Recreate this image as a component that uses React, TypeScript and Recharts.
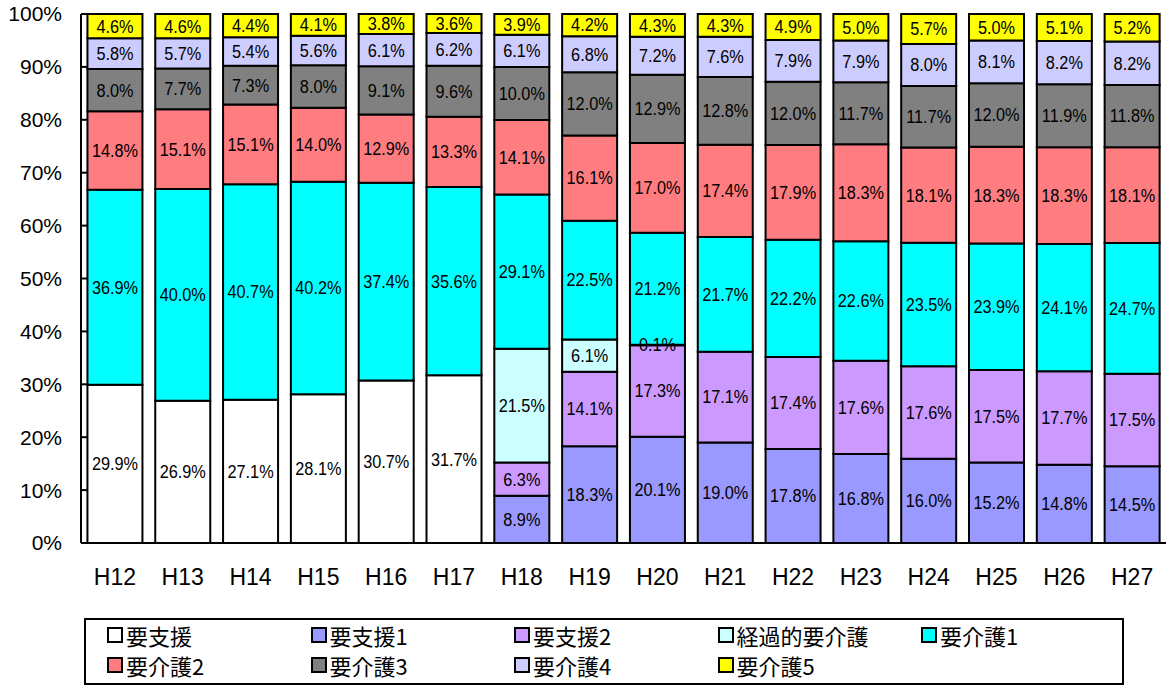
import { BarChart, Bar, XAxis, YAxis, LabelList } from "recharts";

const years = ["H12", "H13", "H14", "H15", "H16", "H17", "H18", "H19", "H20", "H21", "H22", "H23", "H24", "H25", "H26", "H27"];

// values in %, bottom of the stack first
const youShien = [29.9, 26.9, 27.1, 28.1, 30.7, 31.7, null, null, null, null, null, null, null, null, null, null];
const youShien1 = [null, null, null, null, null, null, 8.9, 18.3, 20.1, 19.0, 17.8, 16.8, 16.0, 15.2, 14.8, 14.5];
const youShien2 = [null, null, null, null, null, null, 6.3, 14.1, 17.3, 17.1, 17.4, 17.6, 17.6, 17.5, 17.7, 17.5];
const keikateki = [null, null, null, null, null, null, 21.5, 6.1, 0.1, null, null, null, null, null, null, null];
const kaigo1 = [36.9, 40.0, 40.7, 40.2, 37.4, 35.6, 29.1, 22.5, 21.2, 21.7, 22.2, 22.6, 23.5, 23.9, 24.1, 24.7];
const kaigo2 = [14.8, 15.1, 15.1, 14.0, 12.9, 13.3, 14.1, 16.1, 17.0, 17.4, 17.9, 18.3, 18.1, 18.3, 18.3, 18.1];
const kaigo3 = [8.0, 7.7, 7.3, 8.0, 9.1, 9.6, 10.0, 12.0, 12.9, 12.8, 12.0, 11.7, 11.7, 12.0, 11.9, 11.8];
const kaigo4 = [5.8, 5.7, 5.4, 5.6, 6.1, 6.2, 6.1, 6.8, 7.2, 7.6, 7.9, 7.9, 8.0, 8.1, 8.2, 8.2];
const kaigo5 = [4.6, 4.6, 4.4, 4.1, 3.8, 3.6, 3.9, 4.2, 4.3, 4.3, 4.9, 5.0, 5.7, 5.0, 5.1, 5.2];

const yTicks = [0, 0.1, 0.2, 0.3, 0.4, 0.5, 0.6, 0.7, 0.8, 0.9, 1];
const boundaryTicks = [0, 1, 2, 3, 4, 5, 6, 7, 8, 9, 10, 11, 12, 13, 14, 15, 16];

const series = [
  { key: "s0", name: "要支援", color: "#FFFFFF", values: youShien },
  { key: "s1", name: "要支援1", color: "#9999FF", values: youShien1 },
  { key: "s2", name: "要支援2", color: "#CC99FF", values: youShien2 },
  { key: "s3", name: "経過的要介護", color: "#CCFFFF", values: keikateki },
  { key: "s4", name: "要介護1", color: "#00FFFF", values: kaigo1 },
  { key: "s5", name: "要介護2", color: "#FF7C80", values: kaigo2 },
  { key: "s6", name: "要介護3", color: "#808080", values: kaigo3 },
  { key: "s7", name: "要介護4", color: "#CCCCFF", values: kaigo4 },
  { key: "s8", name: "要介護5", color: "#FFFF00", values: kaigo5 },
];

const data = years.map((year, i) => {
  const row: Record<string, string | number | null> = { year };
  series.forEach((s) => {
    row[s.key] = s.values[i];
  });
  return row;
});

const FONT = "'Liberation Sans', Arial, sans-serif";
const JP_FONT = "'Noto Sans CJK JP', sans-serif";

// the original font is narrow and tall, so squeeze the labels a bit
function SegmentLabel(props: any) {
  const { x, y, width, height, value } = props;
  if (value == null || value === 0) return null;
  const cx = x + width / 2;
  const cy = y + height / 2;
  return (
    <text
      transform={`translate(${cx},${cy}) scale(0.88,1)`}
      textAnchor="middle"
      dominantBaseline="central"
      fontSize={18.5}
      fontFamily={FONT}
      fill="#000"
    >
      {value.toFixed(1)}%
    </text>
  );
}

function LegendBox() {
  return (
    <div
      style={{
        position: "absolute",
        left: 84,
        top: 618,
        width: 1015,
        height: 63,
        border: "2px solid #000",
        display: "grid",
        gridTemplateColumns: "repeat(5, 203.5px)",
        gridAutoRows: "30px",
        paddingLeft: 21,
        boxSizing: "content-box",
        fontFamily: JP_FONT,
        fontSize: 22,
        color: "#000",
        background: "#fff",
      }}
    >
      {series.map((s) => (
        <div key={s.key} style={{ display: "flex", alignItems: "center", whiteSpace: "nowrap" }}>
          <span
            style={{
              display: "inline-block",
              width: 12,
              height: 12,
              border: "2px solid #000",
              background: s.color,
              marginRight: 3,
            }}
          />
          <span>{s.name}</span>
        </div>
      ))}
    </div>
  );
}

export default function App() {
  return (
    <div style={{ position: "absolute", left: 0, top: 0, width: 1167, height: 686, background: "#fff" }}>
      <BarChart
        width={1167}
        height={686}
        data={data}
        stackOffset="expand"
        barCategoryGap="9.5%"
        margin={{ top: 14, right: 1, left: 0, bottom: 0 }}
      >
        <XAxis
          dataKey="year"
          height={143}
          tickLine={false}
          tickSize={0}
          tickMargin={26}
          axisLine={{ stroke: "#000", strokeWidth: 2 }}
          tick={{ fill: "#000", fontSize: 23, fontFamily: FONT }}
          interval={0}
        />
        <XAxis
          xAxisId="bounds"
          type="number"
          domain={[0, 16]}
          ticks={boundaryTicks}
          mirror
          tick={false}
          axisLine={false}
          tickSize={6}
          tickLine={{ stroke: "#000", strokeWidth: 2 }}
        />
        <YAxis
          width={81}
          domain={[0, 1]}
          ticks={yTicks}
          tickFormatter={(v: number) => `${Math.round(v * 100)}%`}
          tickSize={-6}
          tickMargin={25}
          axisLine={{ stroke: "#000", strokeWidth: 2 }}
          tickLine={{ stroke: "#000", strokeWidth: 2 }}
          tick={{ fill: "#000", fontSize: 21, fontFamily: FONT }}
          interval={0}
        />
        {series.map((s) => (
          <Bar
            key={s.key}
            dataKey={s.key}
            name={s.name}
            stackId="a"
            fill={s.color}
            stroke="#000"
            strokeWidth={2}
            isAnimationActive={false}
          >
            <LabelList dataKey={s.key} content={SegmentLabel} />
          </Bar>
        ))}
      </BarChart>
      <LegendBox />
    </div>
  );
}
